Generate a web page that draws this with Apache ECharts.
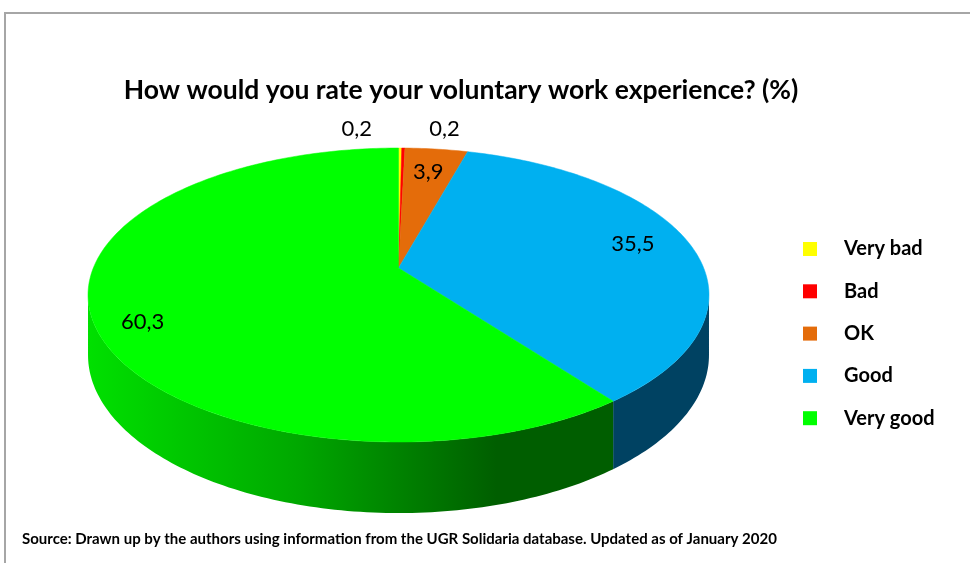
<!DOCTYPE html>
<html>
<head>
<meta charset="utf-8">
<script src="https://cdn.jsdelivr.net/npm/echarts@6/dist/echarts.min.js"></script>
<style>
html,body{margin:0;padding:0;background:#fff;}
#main{width:970px;height:563px;}
</style>
</head>
<body>
<div id="main"></div>
<script>
// ---- data ----
const categories = ['Very bad', 'Bad', 'OK', 'Good', 'Very good'];
const values = [0.2, 0.2, 3.9, 35.5, 60.3];
const valueLabels = ['0,2', '0,2', '3,9', '35,5', '60,3'];
const topColors = ['#FFFF00', '#FF0000', '#E46C0A', '#00B0F0', '#00FF00'];
const sideColors = ['#8a8a00', '#8a0000', '#7a3a05', '#004262', null];
const titleText = 'How would you rate your voluntary work experience? (%)';
const sourceText = 'Source: Drawn up by the authors using information from the UGR Solidaria database. Updated as of January 2020';

// ---- geometry (3D perspective pie) ----
const CX = 398.5, RAD = 305.2, Y0 = 268, AY = 92.8, K = 0.1837, DEPTH = 58;
const total = values.reduce((a, b) => a + b, 0);
const starts = [];
{ let c = 0; values.forEach(v => { starts.push(c); c += v; }); }
function ang(f) { return f / total * Math.PI * 2; }
function proj(theta, r) {
  const u = r * Math.sin(theta), v = -r * Math.cos(theta);
  const den = 1 - K * v;
  return [CX + RAD * u / den, (AY * v + Y0) / den, den];
}
function arc(t0, t1, r, bottom) {
  const pts = [];
  const n = Math.max(2, Math.ceil(Math.abs(t1 - t0) / (Math.PI / 180)));
  for (let i = 0; i <= n; i++) {
    const t = t0 + (t1 - t0) * i / n;
    const p = proj(t, r);
    pts.push([p[0], bottom ? p[1] + DEPTH / p[2] : p[1]]);
  }
  return pts;
}
const SIL = Math.acos(-K); // silhouette angle

const greenSide = new echarts.graphic.LinearGradient(88, 0, 612, 0, [
  { offset: 0, color: '#00e000' },
  { offset: 0.4, color: '#00a800' },
  { offset: 0.78, color: '#005e00' },
  { offset: 1, color: '#005e00' }
], true);

function sideItem(params, api) {
  const i = params.dataIndex;
  const t0 = ang(starts[i]), t1 = ang(starts[i] + values[i]);
  const a = Math.max(t0, SIL), b = Math.min(t1, Math.PI * 2 - SIL);
  if (b <= a) return null;
  const topPts = arc(a, b, 1, false);
  const botPts = arc(b, a, 1, true);
  return {
    type: 'polygon',
    shape: { points: topPts.concat(botPts) },
    style: { fill: sideColors[i] || greenSide, stroke: null }
  };
}
function topItem(i) {
  return function (params, api) {
    const v = api.value(0);
    const t0 = ang(starts[i]), t1 = ang(starts[i] + v);
    const apex = proj(0, 0);
    const pts = [[apex[0], apex[1]]].concat(arc(t0, t1, 1, false));
    return {
      type: 'polygon',
      shape: { points: pts },
      style: { fill: topColors[i], stroke: topColors[i], lineWidth: 0.5 }
    };
  };
}
function labelItem(params, api) {
  const i = params.dataIndex;
  const v = values[i];
  const tm = ang(starts[i] + v / 2);
  let x, y, align = 'center';
  if (v < 1) {
    const p = proj(tm, 1);
    const left = (i % 2 === 0);
    x = p[0] + (left ? -28 : 26);
    y = p[1] - 19;
    align = left ? 'right' : 'left';
  } else {
    const f = v / total;
    const r = 0.75 + 0.15 * f;
    const p = proj(tm, r);
    x = p[0];
    y = p[1] + (f > 0.5 ? DEPTH * 0.25 : -3);
  }
  return {
    type: 'text',
    x: x, y: y,
    style: {
      text: valueLabels[i], fill: '#000', font: '22px Lato',
      align: align, verticalAlign: 'middle'
    }
  };
}

const series = [{
  type: 'custom', name: 'side', coordinateSystem: 'none', z: 1,
  data: values.map(v => [v]), renderItem: sideItem, silent: true
}];
categories.forEach((c, i) => {
  series.push({
    type: 'custom', name: c, coordinateSystem: 'none', z: 2,
    itemStyle: { color: topColors[i] },
    data: [[values[i]]], renderItem: topItem(i), silent: true
  });
});
series.push({
  type: 'custom', name: 'labels', coordinateSystem: 'none', z: 3,
  data: values.map(v => [v]), renderItem: labelItem, silent: true
});

const chart = echarts.init(document.getElementById('main'), null, { renderer: 'canvas' });
chart.setOption({
  animation: false,
  backgroundColor: '#fff',
  title: {
    text: titleText, left: 456, top: 72, textAlign: 'center',
    textStyle: { fontFamily: 'Lato', fontWeight: 'bold', fontSize: 26.5, color: '#000' }
  },
  legend: {
    data: categories, orient: 'vertical', left: 798, top: 233,
    icon: 'rect', itemWidth: 14, itemHeight: 14, itemGap: 20.3,
    selectedMode: false,
    textStyle: { fontFamily: 'Lato', fontWeight: 'bold', fontSize: 20, color: '#000', lineHeight: 22, padding: [0, 0, 0, 22] }
  },
  graphic: [
    { type: 'rect', shape: { x: 5, y: 13, width: 1000, height: 600 }, style: { fill: null, stroke: '#a6a6a6', lineWidth: 2 }, silent: true },
    { type: 'text', left: 22, top: 532, style: { text: sourceText, font: 'bold 15px Lato', fill: '#000' }, silent: true }
  ],
  series: series
});
</script>
</body>
</html>
